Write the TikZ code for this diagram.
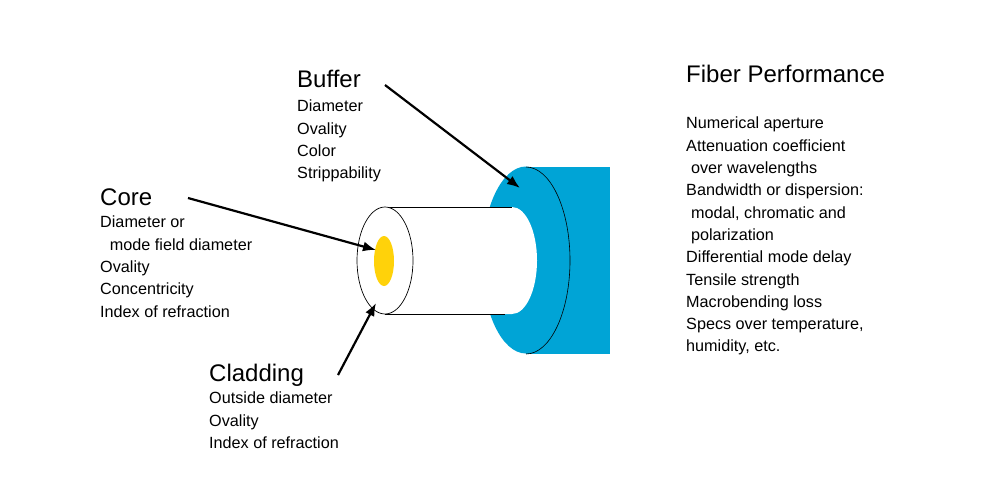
\documentclass[tikz,border=0pt]{standalone}
\usepackage{fontspec}
\setmainfont{Liberation Sans}
\begin{document}
\begin{tikzpicture}[x=1pt,y=-1pt,
  title/.style={anchor=base west,inner sep=0,font=\fontsize{24}{27}\selectfont},
  body/.style={anchor=north west,inner sep=0,font=\fontsize{16.2}{22.3}\selectfont,align=left},
  arr/.style={line width=2.2pt,-{Latex[length=13pt,width=10pt]}}]
\usetikzlibrary{arrows.meta}
\useasboundingbox (0,0) rectangle (1000,500);
\definecolor{blu}{RGB}{0,164,214}
\definecolor{yel}{RGB}{255,210,10}
% buffer
\fill[blu] (526,167) rectangle (610,354);
\fill[blu] (526,260) ellipse [x radius=44,y radius=93.5];
\draw[line width=0.6pt] (526,167) arc[start angle=-90,end angle=90,x radius=44,y radius=93.5];
% cladding cylinder
\fill[white] (385,207) -- (512,207) arc[start angle=-90,end angle=90,x radius=25,y radius=53.5] -- (385,314) -- cycle;
\draw[line width=0.6pt] (385,207) -- (512,207);
\draw[line width=0.6pt] (385,314) -- (505,314);
\draw[line width=0.7pt,fill=white] (385,260.5) ellipse [x radius=28,y radius=53.5];
\fill[yel] (384,261) ellipse [x radius=10,y radius=25];
\coordinate (bufpt) at (520,188);
\coordinate (corept) at (376,250);
\coordinate (cladpt) at (376,303);
% texts
\node[title] (buf) at (297,88) {Buffer};
\node[body] (bufl) at (297,100) {Diameter\\Ovality\\Color\\Strippability};
\node[title] (core) at (100,205) {Core};
\node[body] (corel) at (100,216) {Diameter or\\\hspace{0.6em}mode field diameter\\Ovality\\Concentricity\\Index of refraction};
\node[title] (clad) at (209,381) {Cladding};
\node[body] (cladl) at (209,392) {Outside diameter\\Ovality\\Index of refraction};
\node[title] (fp) at (686,83) {Fiber Performance};
\node[body] (fpl) at (686,117) {Numerical aperture\\Attenuation coefficient\\\hspace{0.3em}over wavelengths\\Bandwidth or dispersion:\\\hspace{0.3em}modal, chromatic and\\\hspace{0.3em}polarization\\Differential mode delay\\Tensile strength\\Macrobending loss\\Specs over temperature,\\humidity, etc.};
% arrows
\coordinate (bufs) at (385,85);
\coordinate (cores) at (188,198);
\coordinate (clads) at (338,375);
\draw[arr] (bufs) -- (bufpt);
\draw[arr] (cores) -- (corept);
\draw[arr] (clads) -- (cladpt);
\end{tikzpicture}
\end{document}
